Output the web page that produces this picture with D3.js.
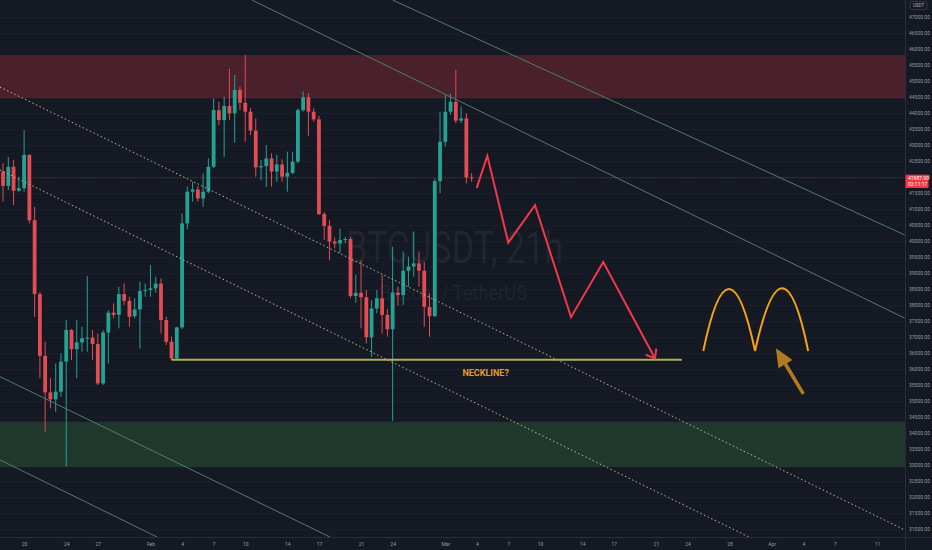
<!DOCTYPE html>
<meta charset="utf-8">
<style>
	body { margin: 0; background: #151924; }
	svg { display: block; }
	text { font-family: Roboto, "DejaVu Sans", sans-serif; }
	.axis text { fill: #959aa3; font-size: 5px; }
	.axis .domain { display: none; }
	.grid line { stroke: #1a1e2a; stroke-width: 1px; }
	.zone.resist { fill: rgba(242, 54, 69, 0.24); }
	.zone.support { fill: rgba(76, 175, 80, 0.2); }
	.channel { fill: none; stroke: #4f7d6c; stroke-width: 1px; }
	.dotted { fill: none; stroke: #c2bd78; stroke-width: 1px; stroke-dasharray: 1.5, 2.5; }
	.wick { stroke-width: 1px; }
	.neckline { stroke: #adae5d; stroke-width: 2px; }
	.projection { fill: none; stroke: #f0394a; stroke-width: 2px; stroke-linejoin: miter; }
	.arch { fill: none; stroke: #f5a313; stroke-width: 2px; }
	.arrow { stroke: #b07c20; fill: #b07c20; }
	.watermark { fill: rgba(150, 156, 172, 0.09); }
</style>
<body>
<div id="chart"></div>
<script src="https://d3js.org/d3.v7.min.js"></script>
<script>
	// 12h bars, first one opens 2022-01-18 00:00 UTC
	var start_time = new Date("2022-01-18T00:00:00Z");
	var bar_hours = 12;

	var opens = [
		42180, 41730, 42330, 41580, 41660, 42700, 40660, 38350, 36420, 35280,
		35060, 35300, 36240, 37230, 36630, 36840, 36970, 36990, 36790, 35560,
		37150, 37770, 37700, 38350, 38140, 37660, 37870, 38450, 38480, 38530,
		38680, 37540, 36860, 36340, 37310, 40560, 41550, 41620, 41340, 41550,
		42330, 44100, 43790, 44230, 44000, 44730, 44330, 44050, 43460, 42310,
		42350, 42590, 42180, 42400, 42020, 42140, 42490, 44100, 44500, 44050,
		43810, 40850, 40480, 39990, 39930, 40040, 40070, 38290, 38390, 38250,
		37000, 37900, 38220, 37700, 37250, 38400, 38320, 39080, 39210, 39310,
		39080, 37950, 37660, 41880, 43110, 44050, 44360, 43770, 43840, 42000
	];
	var highs = [
		42440, 42640, 42540, 42020, 43480, 42720, 41080, 38420, 36860, 35720,
		36180, 36500, 37540, 37260, 37540, 37330, 38910, 37230, 37120, 37230,
		37850, 38060, 38580, 38680, 38270, 38220, 38740, 38680, 39260, 38890,
		38840, 37640, 37020, 37330, 40870, 41710, 41860, 41730, 42120, 42590,
		44470, 44360, 44520, 45400, 45200, 44830, 45820, 44160, 43840, 42540,
		43010, 42750, 42700, 42560, 42800, 42800, 44150, 44680, 44630, 44160,
		43920, 40920, 40660, 40120, 40400, 40140, 40140, 38950, 39410, 38480,
		38160, 38480, 38950, 37880, 39830, 38580, 39680, 39520, 40300, 39680,
		39360, 38370, 41960, 44050, 44570, 44620, 45350, 44210, 44000, 42130
	];
	var lows = [
		41240, 41600, 41130, 41550, 41550, 40560, 37640, 35720, 34050, 34780,
		34670, 35140, 32970, 36290, 35720, 36550, 36550, 36290, 35510, 35510,
		36180, 37590, 37280, 38010, 37330, 37590, 36650, 38270, 38270, 38400,
		37120, 36760, 36290, 36320, 37260, 40370, 41240, 41240, 41080, 41500,
		42280, 43630, 42640, 43790, 43080, 44100, 43110, 43320, 42020, 41910,
		41690, 41710, 41860, 41860, 41550, 42100, 42430, 44050, 43290, 43740,
		40820, 40040, 39410, 39780, 39620, 39940, 38220, 38080, 37280, 36810,
		36390, 37750, 37120, 37020, 34380, 37990, 38010, 38580, 38890, 38580,
		37330, 37020, 37640, 41500, 42960, 43960, 43690, 43690, 41810, 41860
	];
	var closes = [
		41730, 42330, 41580, 41660, 42700, 40660, 38350, 36420, 35280, 35060,
		35300, 36240, 37230, 36630, 36840, 36970, 36990, 36790, 35560, 37150,
		37770, 37700, 38350, 38140, 37640, 37870, 38450, 38480, 38530, 38680,
		37540, 36860, 36340, 37310, 40560, 41550, 41620, 41340, 41550, 42330,
		44100, 43790, 44230, 44000, 44730, 44330, 44050, 43460, 42310, 42350,
		42590, 42180, 42400, 42020, 42140, 42490, 44100, 44500, 44050, 43810,
		40850, 40480, 39990, 39930, 40040, 40070, 38290, 38390, 38250, 37000,
		37900, 38220, 37700, 37250, 38400, 38320, 39080, 39210, 39310, 39080,
		37950, 37660, 41880, 43110, 44050, 44360, 43770, 43840, 42000, 41987.9
	];
	var last_price_label = "41987.90";
	var countdown_label = "02:11:17";

	var price_ticks = [
		31000, 31500, 32000, 32500, 33000, 33500, 34000, 34500, 35000, 35500,
		36000, 36500, 37000, 37500, 38000, 38500, 39000, 39500, 40000, 40500,
		41000, 41500, 42000, 42500, 43000, 43500, 44000, 44500, 45000, 45500,
		46000, 46500, 47000
	];
	var date_ticks = [
		"2022-01-20", "2022-01-24", "2022-01-27", "2022-02-01", "2022-02-04", "2022-02-07",
		"2022-02-10", "2022-02-14", "2022-02-17", "2022-02-21", "2022-02-24", "2022-03-01",
		"2022-03-04", "2022-03-07", "2022-03-10", "2022-03-14", "2022-03-17", "2022-03-21",
		"2022-03-24", "2022-03-28", "2022-04-01", "2022-04-04", "2022-04-07", "2022-04-11"
	];
	var date_tick_labels = [
		"20", "24", "27", "Feb", "4", "7", "10", "14", "17", "21", "24", "Mar",
		"4", "7", "10", "14", "17", "21", "24", "28", "Apr", "4", "7", "11"
	];

	// drawings (time, price)
	var resistance_zone = [44470, 45820];
	var support_zone = [32940, 34360];
	var channel_lines = [
		[["2022-02-24T00:00Z", 47540], ["2022-04-13T15:00Z", 40200]],
		[["2022-02-10T15:00Z", 47540], ["2022-04-13T15:00Z", 37600]],
		[["2022-01-17T17:00Z", 35770], ["2022-02-18T01:00Z", 30760]],
		[["2022-01-17T17:00Z", 33170], ["2022-02-01T15:00Z", 30760]]
	];
	var dotted_lines = [
		[["2022-01-17T17:00Z", 44820], ["2022-04-13T15:00Z", 30980]],
		[["2022-01-17T17:00Z", 42230], ["2022-03-29T20:00Z", 30760]]
	];
	var neckline = [["2022-02-03T00:00Z", 36300], ["2022-03-23T11:00Z", 36300]];
	var neckline_label = ["2022-03-04T20:00Z", 35790, "NECKLINE?"];
	var projection = [
		["2022-03-03T23:30Z", 41660], ["2022-03-04T23:45Z", 42670],
		["2022-03-06T23:30Z", 39960], ["2022-03-09T12:30Z", 41130],
		["2022-03-12T22:30Z", 37630], ["2022-03-16T00:00Z", 39350],
		["2022-03-20T22:00Z", 36340]
	];
	var arches = [
		[["2022-03-25T12:00Z", 36570], ["2022-03-27T22:00Z", 38510], ["2022-03-30T10:00Z", 36570]],
		[["2022-03-30T10:00Z", 36570], ["2022-04-02T01:00Z", 38530], ["2022-04-04T11:00Z", 36570]]
	];
	var up_arrow = [["2022-04-04T00:00Z", 35230], ["2022-04-01T11:00Z", 36630]];

	var width = 932, height = 550;
	var plot_w = 905, plot_h = 537;
	var up_color = "#24a293", down_color = "#e24c53";

	// set the scales
	var x = d3.scaleUtc()
			.domain([new Date("2022-01-20T00:00Z"), new Date("2022-04-11T00:00Z")])
			.range([24.1, 24.1 + 81 * 10.53]);
	var y = d3.scaleLinear().domain([31000, 47000]).range([529.3, 17.3]);

	function px(p) { return [x(new Date(p[0])), y(p[1])]; }

	var svg = d3.select("#chart").append("svg")
			.attr("width", width)
			.attr("height", height);

	svg.append("rect").attr("width", width).attr("height", height).attr("fill", "#151924");

	svg.append("clipPath").attr("id", "plot")
			.append("rect").attr("width", plot_w).attr("height", plot_h);

	var plot = svg.append("g").attr("clip-path", "url(#plot)");

	// faint grid
	plot.append("g").attr("class", "grid")
			.selectAll("line").data(price_ticks).enter().append("line")
			.attr("x1", 0).attr("x2", plot_w)
			.attr("y1", function (d) { return Math.round(y(d)) + 0.5; })
			.attr("y2", function (d) { return Math.round(y(d)) + 0.5; });

	// zones
	plot.append("rect").attr("class", "zone resist")
			.attr("x", 0).attr("width", plot_w)
			.attr("y", y(resistance_zone[1]))
			.attr("height", y(resistance_zone[0]) - y(resistance_zone[1]));
	plot.append("rect").attr("class", "zone support")
			.attr("x", 0).attr("width", plot_w)
			.attr("y", y(support_zone[1]))
			.attr("height", y(support_zone[0]) - y(support_zone[1]));

	// watermark
	plot.append("text").attr("class", "watermark")
			.attr("x", 346).attr("y", 263)
			.attr("font-size", 45).attr("textLength", 217).attr("lengthAdjust", "spacingAndGlyphs")
			.text("BTCUSDT, 21h");
	plot.append("text").attr("class", "watermark")
			.attr("x", 380).attr("y", 300)
			.attr("font-size", 20).attr("textLength", 147).attr("lengthAdjust", "spacingAndGlyphs")
			.text("Bitcoin / TetherUS");

	// last price line
	plot.append("line")
			.attr("x1", 0).attr("x2", plot_w)
			.attr("y1", y(closes[closes.length - 1])).attr("y2", y(closes[closes.length - 1]))
			.attr("stroke", down_color).attr("stroke-opacity", 0.45)
			.attr("stroke-dasharray", "1,1.5");

	// candles
	var bars = d3.range(opens.length).map(function (i) {
		return {
			t: d3.utcHour.offset(start_time, i * bar_hours),
			o: opens[i], h: highs[i], l: lows[i], c: closes[i]
		};
	});
	var candle = plot.append("g").selectAll("g").data(bars).enter().append("g");
	candle.append("line").attr("class", "wick")
			.attr("x1", function (d) { return x(d.t); })
			.attr("x2", function (d) { return x(d.t); })
			.attr("y1", function (d) { return y(d.h); })
			.attr("y2", function (d) { return y(d.l); })
			.attr("stroke", function (d) { return d.c >= d.o ? up_color : down_color; });
	candle.append("rect")
			.attr("x", function (d) { return x(d.t) - 1.9; })
			.attr("width", 3.8)
			.attr("y", function (d) { return y(Math.max(d.o, d.c)); })
			.attr("height", function (d) { return Math.max(1, Math.abs(y(d.o) - y(d.c))); })
			.attr("fill", function (d) { return d.c >= d.o ? up_color : down_color; });

	// channel lines
	var line = d3.line().x(function (d) { return px(d)[0]; }).y(function (d) { return px(d)[1]; });
	plot.selectAll(".channel").data(channel_lines).enter().append("path")
			.attr("class", "channel").attr("d", line);
	plot.selectAll(".dotted").data(dotted_lines).enter().append("path")
			.attr("class", "dotted").attr("d", line);

	// neckline
	plot.append("line").attr("class", "neckline")
			.attr("x1", px(neckline[0])[0]).attr("y1", px(neckline[0])[1])
			.attr("x2", px(neckline[1])[0]).attr("y2", px(neckline[1])[1]);
	plot.append("text")
			.attr("x", px(neckline_label)[0]).attr("y", px(neckline_label)[1])
			.attr("text-anchor", "middle")
			.attr("font-size", 9).attr("font-weight", 700)
			.attr("fill", "#e89a2a")
			.text(neckline_label[2]);

	// projected path with arrow head
	plot.append("path").attr("class", "projection").attr("d", line(projection));
	var tip = px(projection[projection.length - 1]);
	var prev = px(projection[projection.length - 2]);
	var ang = Math.atan2(prev[1] - tip[1], prev[0] - tip[0]);
	var head = [ang + 0.62, ang - 0.7].map(function (a) {
		return [tip[0] + 10 * Math.cos(a), tip[1] + 10 * Math.sin(a)];
	});
	plot.append("path").attr("class", "projection")
			.attr("d", "M" + head[0] + "L" + tip + "L" + head[1]);

	// double top arches
	plot.selectAll(".arch").data(arches).enter().append("path")
			.attr("class", "arch")
			.attr("d", function (d) {
				var a = px(d[0]), p = px(d[1]), b = px(d[2]);
				var cy = 2 * p[1] - (a[1] + b[1]) / 2;
				return "M" + a + "Q" + [p[0], cy] + " " + b;
			});

	// arrow pointing at the second bottom
	var tail = px(up_arrow[0]), atip = px(up_arrow[1]);
	var dx = atip[0] - tail[0], dy = atip[1] - tail[1];
	var len = Math.sqrt(dx * dx + dy * dy);
	var ux = dx / len, uy = dy / len;
	var bx = atip[0] - ux * 17, by = atip[1] - uy * 17;
	plot.append("line").attr("class", "arrow")
			.attr("x1", tail[0]).attr("y1", tail[1]).attr("x2", bx).attr("y2", by)
			.attr("stroke-width", 3.5);
	plot.append("path").attr("class", "arrow")
			.attr("d", "M" + atip + "L" + [bx - uy * 7.5, by + ux * 7.5] + "L" + [bx + uy * 7.5, by - ux * 7.5] + "Z");

	// axes
	svg.append("g").attr("class", "axis")
			.attr("transform", "translate(" + (plot_w + 3) + ",0)")
			.call(d3.axisRight(y).tickValues(price_ticks).tickSize(0).tickPadding(1)
					.tickFormat(d3.format(".2f")));
	svg.append("g").attr("class", "axis")
			.attr("transform", "translate(0," + (plot_h + 4) + ")")
			.call(d3.axisBottom(x).tickValues(date_ticks.map(function (d) { return new Date(d + "T00:00Z"); }))
					.tickSize(0).tickPadding(1)
					.tickFormat(function (d, i) { return date_tick_labels[i]; }));

	svg.append("line").attr("x1", plot_w + 0.5).attr("x2", plot_w + 0.5).attr("y1", 0).attr("y2", height)
			.attr("stroke", "#2a2e39");
	svg.append("line").attr("x1", 0).attr("x2", width).attr("y1", plot_h + 0.5).attr("y2", plot_h + 0.5)
			.attr("stroke", "#2a2e39");

	// currency tag on top of the price scale
	svg.append("rect").attr("x", 910).attr("y", 1.5).attr("width", 17).attr("height", 8)
			.attr("rx", 1.5).attr("fill", "#151924").attr("stroke", "#4a4e59").attr("stroke-width", 0.6);
	svg.append("text").attr("x", 918.5).attr("y", 7.3).attr("text-anchor", "middle")
			.attr("font-size", 4.5).attr("fill", "#b2b5be").text("USDT");

	// last price tag
	var ly = y(closes[closes.length - 1]);
	svg.append("rect").attr("x", plot_w + 0.5).attr("y", ly - 3).attr("width", 23).attr("height", 13.3)
			.attr("fill", "#f23645");
	svg.append("text").attr("x", 908).attr("y", ly + 2.3).attr("font-size", 5).attr("fill", "#fff")
			.text(last_price_label);
	svg.append("text").attr("x", 908).attr("y", ly + 8.3).attr("font-size", 5).attr("fill", "#fff")
			.text(countdown_label);
</script>
</body>
